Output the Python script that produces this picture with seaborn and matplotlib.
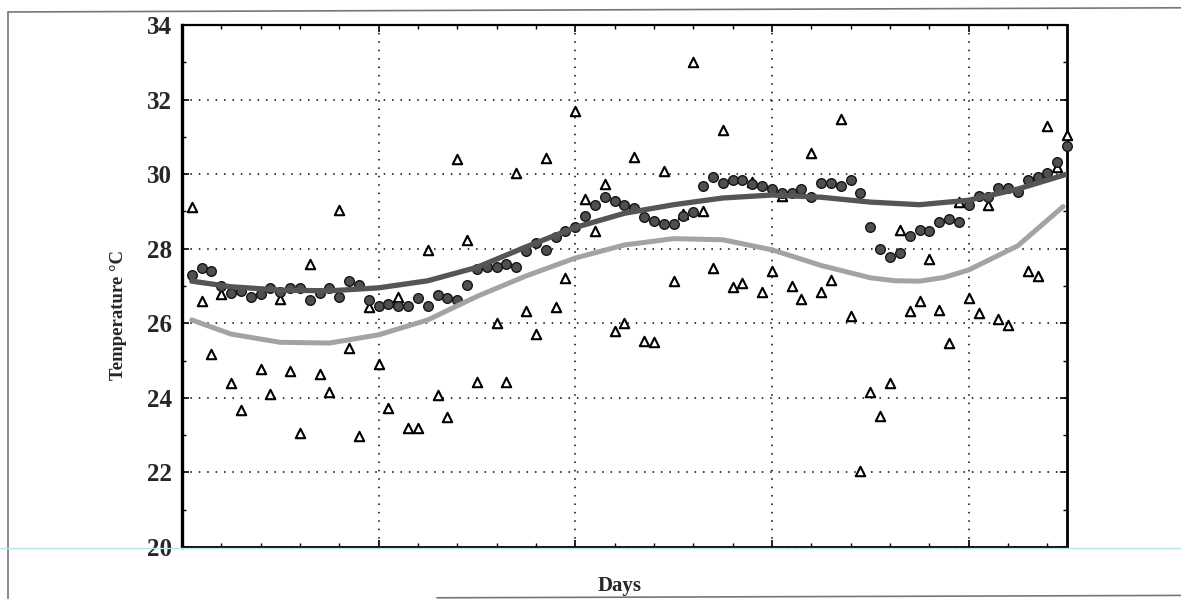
import numpy as np
import pandas as pd
import seaborn as sns
import matplotlib.pyplot as plt
from matplotlib.ticker import MultipleLocator, NullFormatter
from matplotlib.lines import Line2D

# daily readings, days 1..90
days = list(range(1, 91))
circle_temp = [27.30, 27.48, 27.41, 27.00, 26.80, 26.87, 26.70, 26.79, 26.95, 26.83,
               26.95, 26.95, 26.62, 26.80, 26.95, 26.70, 27.14, 27.04, 26.62, 26.47,
               26.53, 26.47, 26.47, 26.68, 26.47, 26.77, 26.68, 26.62, 27.04, 27.45,
               27.50, 27.50, 27.60, 27.50, 27.95, 28.14, 27.97, 28.32, 28.48, 28.57,
               28.87, 29.18, 29.38, 29.27, 29.18, 29.09, 28.86, 28.75, 28.66, 28.66,
               28.89, 28.98, 29.69, 29.92, 29.75, 29.85, 29.85, 29.74, 29.67, 29.60,
               29.49, 29.49, 29.60, 29.40, 29.76, 29.76, 29.67, 29.85, 29.49, 28.59,
               27.99, 27.79, 27.89, 28.35, 28.51, 28.48, 28.71, 28.80, 28.71, 29.18,
               29.42, 29.40, 29.63, 29.63, 29.51, 29.83, 29.93, 30.03, 30.32, 30.75]
triangle_temp = [29.11, 26.59, 25.18, 26.79, 24.40, 23.68, None, 24.77, 24.10, 26.65,
                 24.73, 23.06, 27.59, 24.64, 24.15, 29.04, 25.35, 22.97, 26.43, 24.91,
                 23.73, 26.70, 23.19, 23.19, 27.97, 24.07, 23.48, 30.41, 28.23, 24.42,
                 None, 26.00, 24.43, 30.03, 26.34, 25.71, 30.43, 26.45, 27.21, 31.70,
                 29.33, 28.47, 29.74, 25.78, 26.02, 30.45, 25.53, 25.51, 30.08, 27.14,
                 28.93, 33.02, 29.00, 27.48, 31.19, 26.96, 27.08, 29.80, 26.83, 27.39,
                 29.41, 27.01, 26.65, 30.56, 26.83, 27.16, 31.48, 26.20, 22.03, 24.17,
                 23.50, 24.39, 28.50, 26.34, 26.59, 27.72, 26.36, 25.46, 29.25, 26.68,
                 26.28, 29.17, 26.11, 25.96, None, 27.41, 27.28, 31.28, 30.18, 31.05]

# fitted trend curves
dark_days = [1, 5, 10, 15, 20, 25, 30, 35, 40, 45, 50, 55, 60, 65, 70, 75, 80, 85, 90]
dark_curve = [27.13, 26.98, 26.89, 26.87, 26.95, 27.14, 27.50, 28.05, 28.57, 28.95,
              29.18, 29.36, 29.44, 29.38, 29.25, 29.18, 29.30, 29.60, 30.00]
light_days = [1, 5, 10, 15, 20, 25, 30, 35, 40, 45, 50, 55, 60, 65, 70, 72.5, 75,
              77.5, 80, 85, 89.6]
light_curve = [26.09, 25.71, 25.49, 25.47, 25.69, 26.09, 26.72, 27.27, 27.75, 28.10,
               28.27, 28.24, 27.97, 27.55, 27.22, 27.14, 27.13, 27.23, 27.43, 28.08, 29.13]

pts = pd.DataFrame({'day': days, 'circ': circle_temp,
                    'tri': [np.nan if v is None else v for v in triangle_temp]})
dark = pd.DataFrame({'day': dark_days, 'temp': dark_curve})
light = pd.DataFrame({'day': light_days, 'temp': light_curve})

sns.set_style('ticks')
plt.rcParams['font.family'] = ['Liberation Serif', 'DejaVu Serif']
plt.rcParams['font.weight'] = 'bold'

fig = plt.figure(figsize=(11.81, 5.99), dpi=100)
ax = fig.add_axes([0.154, 0.0868, 0.7495, 0.8715])

sns.scatterplot(data=pts, x='day', y='tri', marker='^', s=46, facecolor='white',
                edgecolor='black', linewidth=1.5, ax=ax, zorder=3, clip_on=False)
sns.scatterplot(data=pts, x='day', y='circ', marker='o', s=48, color='#4f4f4f',
                edgecolor='#151515', linewidth=1.0, ax=ax, zorder=4, clip_on=False)
sns.lineplot(data=light, x='day', y='temp', color='#a3a3a3', lw=3.6, ax=ax, zorder=5)
sns.lineplot(data=dark, x='day', y='temp', color='#555555', lw=3.8, ax=ax, zorder=6)

ax.set_xlim(0, 90)
ax.set_ylim(20, 34)
ax.xaxis.set_major_locator(MultipleLocator(20))
ax.xaxis.set_minor_locator(MultipleLocator(4))
ax.xaxis.set_major_formatter(NullFormatter())
ax.yaxis.set_major_locator(MultipleLocator(2))
ax.yaxis.set_minor_locator(MultipleLocator(1))
ax.tick_params(which='both', direction='in', top=True, right=True, color='black')
ax.tick_params(which='major', length=5, width=1.2)
ax.tick_params(which='minor', length=3, width=1.0)
ax.tick_params(axis='y', labelsize=18, pad=7)
for lab in ax.get_yticklabels():
    lab.set_fontweight('bold')

ax.grid(True, which='major', color='black', linestyle=(0, (1, 4.5)), linewidth=1.1)
for side, lw in [('left', 2.4), ('bottom', 2.0), ('right', 2.0), ('top', 1.6)]:
    ax.spines[side].set_linewidth(lw)
    ax.spines[side].set_color('black')

ax.set_xlabel('Days', fontsize=15, fontweight='bold')
ax.set_ylabel('Temperature °C', fontsize=13.5, fontweight='bold')
ax.xaxis.set_label_coords(0.495, -0.055)
ax.yaxis.set_label_coords(-0.062, 0.445)

# page border and scan line from the original
fig.add_artist(Line2D([0.0068, 1.0], [0.980, 0.987], color='#777777', lw=1.2))
fig.add_artist(Line2D([0.0068, 0.0068], [0.980, 0.0], color='#777777', lw=1.2))
fig.add_artist(Line2D([0.37, 1.0], [0.002, 0.006], color='#777777', lw=1.2))
fig.add_artist(Line2D([0.0, 1.0], [0.085, 0.085], color='#b5e6ea', lw=1.0))

fig.savefig('out.png', dpi=100)
